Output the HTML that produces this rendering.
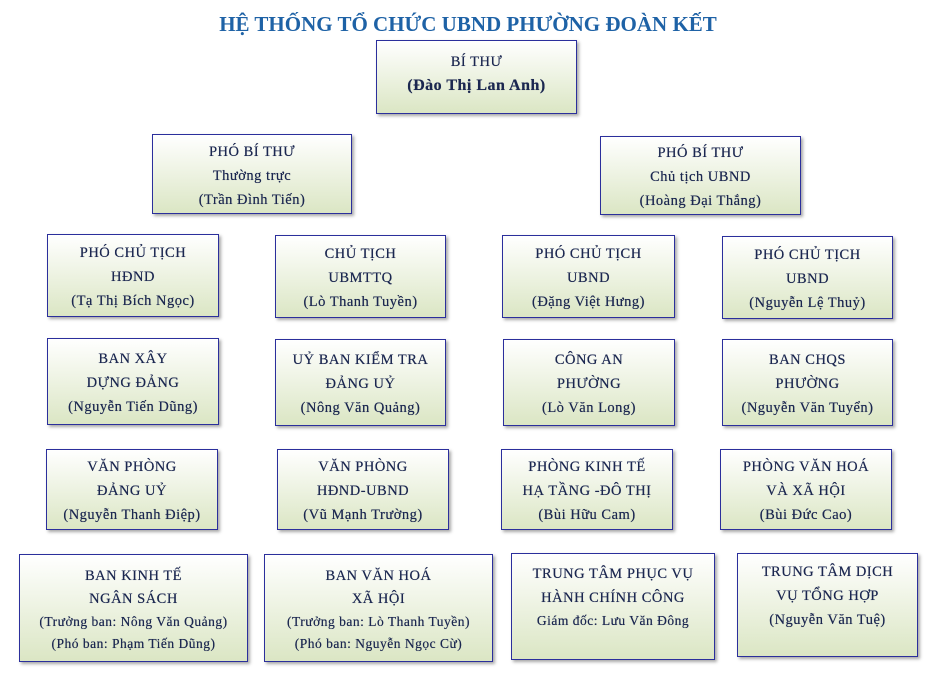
<!DOCTYPE html>
<html><head><meta charset="utf-8"><style>
body{margin:0;width:936px;height:676px;background:#fff;position:relative;overflow:hidden;font-family:"Liberation Serif",serif;}
.t{position:absolute;left:0;width:936px;top:12px;text-align:center;font-weight:bold;font-size:21px;color:#1e62a6;}
.b{position:absolute;box-sizing:border-box;border:1px solid #2b2f9c;background:linear-gradient(#ffffff,#dbe6c4);box-shadow:2px 2px 3px rgba(0,0,0,.35);color:#1b2750;text-align:center;font-size:14.5px;line-height:24px;letter-spacing:.5px;display:flex;flex-direction:column;justify-content:center;padding-top:3px;text-shadow:0 0 .4px #1b2750;}
.s{font-size:13.5px;line-height:22px}
</style></head><body>
<div class="t">HỆ THỐNG TỔ CHỨC UBND PHƯỜNG ĐOÀN KẾT</div>
<div class="b" style="left:376px;top:40px;width:201px;height:74px;padding-bottom:10px">BÍ THƯ<br><b style="font-size:16px">(Đào Thị Lan Anh)</b></div>
<div class="b" style="left:152px;top:134px;width:200px;height:80px">PHÓ BÍ THƯ<br>Thường trực<br>(Trần Đình Tiến)</div>
<div class="b" style="left:600px;top:136px;width:201px;height:79px">PHÓ BÍ THƯ<br>Chủ tịch UBND<br>(Hoàng Đại Thắng)</div>

<div class="b" style="left:47px;top:234px;width:172px;height:83px">PHÓ CHỦ TỊCH<br>HĐND<br>(Tạ Thị Bích Ngọc)</div>
<div class="b" style="left:275px;top:235px;width:171px;height:83px">CHỦ TỊCH<br>UBMTTQ<br>(Lò Thanh Tuyền)</div>
<div class="b" style="left:502px;top:235px;width:173px;height:83px">PHÓ CHỦ TỊCH<br>UBND<br>(Đặng Việt Hưng)</div>
<div class="b" style="left:722px;top:236px;width:171px;height:83px">PHÓ CHỦ TỊCH<br>UBND<br>(Nguyễn Lệ Thuỷ)</div>

<div class="b" style="left:47px;top:338px;width:172px;height:87px">BAN XÂY<br>DỰNG ĐẢNG<br>(Nguyễn Tiến Dũng)</div>
<div class="b" style="left:275px;top:339px;width:171px;height:87px">UỶ BAN KIỂM TRA<br>ĐẢNG UỶ<br>(Nông Văn Quảng)</div>
<div class="b" style="left:503px;top:339px;width:172px;height:87px">CÔNG AN<br>PHƯỜNG<br>(Lò Văn Long)</div>
<div class="b" style="left:722px;top:339px;width:171px;height:87px">BAN CHQS<br>PHƯỜNG<br>(Nguyễn Văn Tuyển)</div>

<div class="b" style="left:46px;top:449px;width:172px;height:81px">VĂN PHÒNG<br>ĐẢNG UỶ<br>(Nguyễn Thanh Điệp)</div>
<div class="b" style="left:277px;top:449px;width:172px;height:81px">VĂN PHÒNG<br>HĐND-UBND<br>(Vũ Mạnh Trường)</div>
<div class="b" style="left:501px;top:449px;width:172px;height:81px">PHÒNG KINH TẾ<br>HẠ TẦNG -ĐÔ THỊ<br>(Bùi Hữu Cam)</div>
<div class="b" style="left:720px;top:449px;width:172px;height:81px">PHÒNG VĂN HOÁ<br>VÀ XÃ HỘI<br>(Bùi Đức Cao)</div>

<div class="b" style="left:19px;top:554px;width:229px;height:108px;line-height:23px">BAN KINH TẾ<br>NGÂN SÁCH<br><span class="s">(Trưởng ban: Nông Văn Quảng)<br>(Phó ban: Phạm Tiến Dũng)</span></div>
<div class="b" style="left:264px;top:554px;width:229px;height:108px;line-height:23px">BAN VĂN HOÁ<br>XÃ HỘI<br><span class="s">(Trưởng ban: Lò Thanh Tuyền)<br>(Phó ban: Nguyễn Ngọc Cừ)</span></div>
<div class="b" style="left:511px;top:553px;width:204px;height:107px;justify-content:flex-start;padding-top:8px">TRUNG TÂM PHỤC VỤ<br>HÀNH CHÍNH CÔNG<br><span class="s">Giám đốc: Lưu Văn Đông</span></div>
<div class="b" style="left:737px;top:553px;width:181px;height:104px;justify-content:flex-start;padding-top:6px">TRUNG TÂM DỊCH<br>VỤ TỔNG HỢP<br>(Nguyễn Văn Tuệ)</div>
</body></html>
